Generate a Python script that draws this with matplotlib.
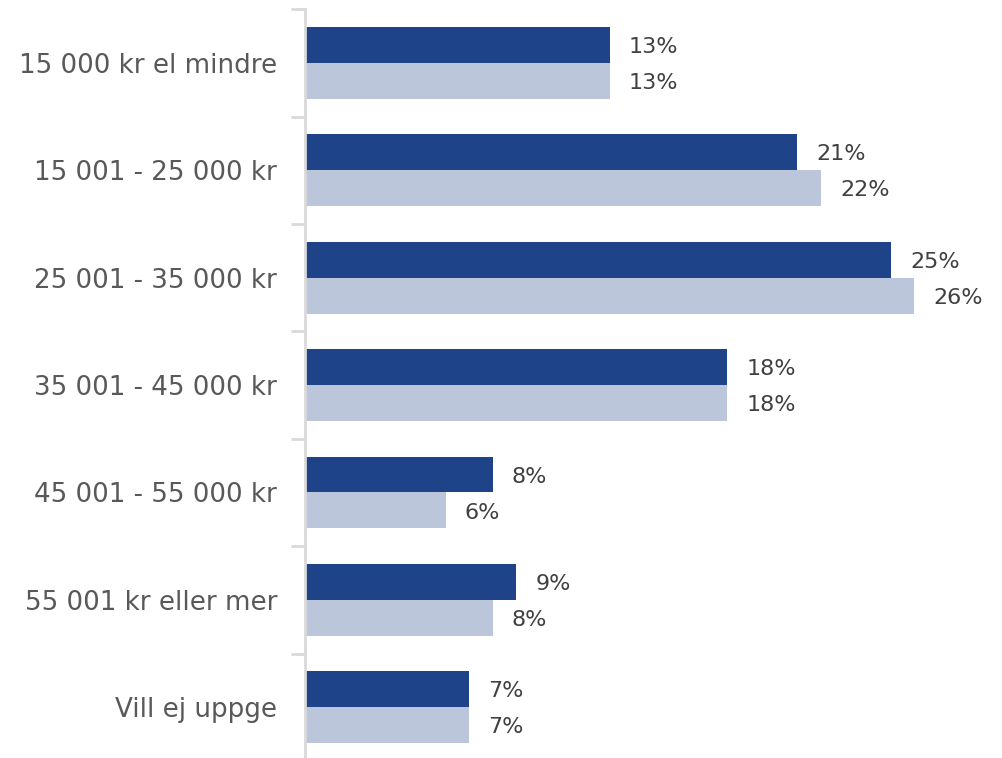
import numpy as np
import matplotlib.pyplot as plt

categories = ['15 000 kr el mindre', '15 001 - 25 000 kr', '25 001 - 35 000 kr',
              '35 001 - 45 000 kr', '45 001 - 55 000 kr', '55 001 kr eller mer',
              'Vill ej uppge']
series_a = [13, 21, 25, 18, 8, 9, 7]
series_b = [13, 22, 26, 18, 6, 8, 7]
label_a = ['13%', '21%', '25%', '18%', '8%', '9%', '7%']
label_b = ['13%', '22%', '26%', '18%', '6%', '8%', '7%']

dark = '#1F4388'
light = '#BCC6DB'
grid_col = '#D9D9D9'

plt.rcParams['font.family'] = ['DejaVu Sans']

fig = plt.figure(figsize=(10.02, 7.58), dpi=100)
ax = fig.add_axes([0.3044, -0.0039, 0.655, 0.9918])

y = np.arange(len(categories))
h = 0.334
ax.barh(y - h / 2, series_a, height=h, color=dark)
ax.barh(y + h / 2, series_b, height=h, color=light)

for yi, va, vb, la, lb in zip(y, series_a, series_b, label_a, label_b):
    ax.text(va + 0.82, yi - h / 2 + 0.02, la, va='center', ha='left', fontsize=16, color='#404040')
    ax.text(vb + 0.82, yi + h / 2 + 0.02, lb, va='center', ha='left', fontsize=16, color='#404040')

ax.set_xlim(0, 28)
ax.set_ylim(len(categories) - 0.5, -0.5)

ax.set_yticks(y)
ax.set_yticklabels(categories, fontsize=18.8, color='#595959')
ax.set_yticks(np.arange(len(categories) + 1) - 0.5, minor=True)
ax.tick_params(axis='y', which='major', length=0, pad=20)
ax.tick_params(axis='y', which='minor', length=10, width=2, color=grid_col)
ax.set_xticks([])

for s in ['top', 'right', 'bottom']:
    ax.spines[s].set_visible(False)
ax.spines['left'].set_color(grid_col)
ax.spines['left'].set_linewidth(2)

fig.savefig('out.png', dpi=100)
